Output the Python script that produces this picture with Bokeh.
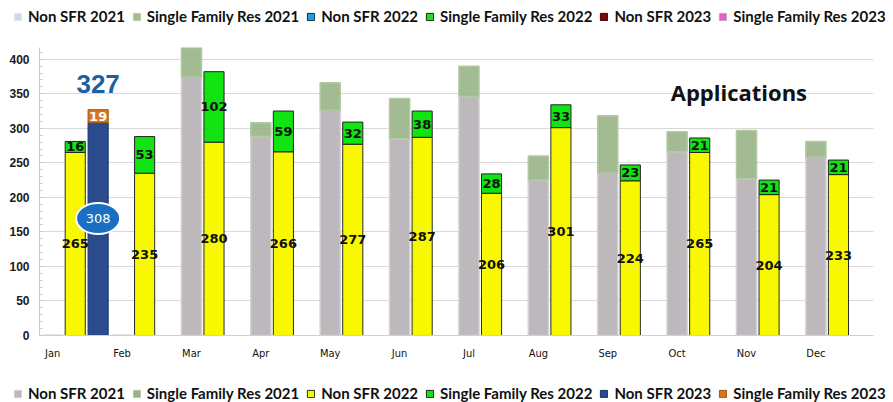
import numpy as np
from bokeh.plotting import figure
from bokeh.layouts import column
from bokeh.models import (ColumnDataSource, Legend, LegendItem, Range1d,
                          FixedTicker, Label)
from bokeh.core.properties import value
from bokeh.embed import file_html
from bokeh.resources import INLINE

# ---------------- data ----------------
months = ["Jan", "Feb", "Mar", "Apr", "May", "Jun",
          "Jul", "Aug", "Sep", "Oct", "Nov", "Dec"]
non_sfr_2021 = [0, 0, 374, 288, 326, 285, 346, 225, 235, 266, 227, 258]
sfr_2021 = [0, 0, 60, 20, 40, 58, 44, 35, 83, 29, 70, 23]
non_sfr_2022 = [265, 235, 280, 266, 277, 287, 206, 301, 224, 265, 204, 233]
sfr_2022 = [16, 53, 102, 59, 32, 38, 28, 33, 23, 21, 21, 21]
non_sfr_2023 = [308]
sfr_2023 = [19]
y_ticks = [0, 50, 100, 150, 200, 250, 300, 350, 400]
legend_labels = ["Non SFR 2021", "Single Family Res 2021", "Non SFR 2022",
                 "Single Family Res 2022", "Non SFR 2023", "Single Family Res 2023"]

# colours
C_N21, L_N21 = "#bdb8bc", "#d4d0d3"
C_S21, L_S21 = "#98b487", "#b3c9a4"
C_N22, L_N22 = "#f8f800", "#2b2b2b"
C_S22, L_S22 = "#12e312", "#222222"
C_N23, L_N23 = "#2b4b8c", "#1d3468"
C_S23, L_S23 = "#d9741e", "#a85410"
# the upper key of the picture uses a different palette
top_colors = [("#cdd8ea", "#e0e6f0"), ("#a3bd91", "#b9ccab"),
              ("#1aa3e0", "#1a2a3a"), ("#22dd22", "#103010"),
              ("#7a0a0a", "#4a0000"), ("#e060c8", "#c0a0c0")]
bot_colors = [(C_N21, L_N21), (C_S21, L_S21), (C_N22, L_N22),
              (C_S22, L_S22), (C_N23, L_N23), (C_S23, L_S23)]

W = 893

# ---------------- layout helpers ----------------
idx = np.arange(len(months), dtype=float)
OFF21, OFF22, OFF23 = 0.0, 0.325, 0.655
BW = 0.29

n21 = np.array(non_sfr_2021, float)
s21 = np.array(sfr_2021, float)
n22 = np.array(non_sfr_2022, float)
s22 = np.array(sfr_2022, float)
n23 = np.array(non_sfr_2023, float)
s23 = np.array(sfr_2023, float)

src21 = ColumnDataSource(dict(x=idx + OFF21, n=n21, t=n21 + s21))
src22 = ColumnDataSource(dict(x=idx + OFF22, n=n22, t=n22 + s22,
                              nmid=n22 / 2, smid=n22 + s22 / 2,
                              nlab=[str(int(v)) for v in n22],
                              slab=[str(int(v)) for v in s22]))
x23 = idx[:len(n23)] + OFF23
src23 = ColumnDataSource(dict(x=x23, n=n23, t=n23 + s23, smid=n23 + s23 / 2,
                              emid=n23 * 0.55,
                              nlab=[str(int(v)) for v in n23],
                              slab=[str(int(v)) for v in s23],
                              tlab=[str(int(v)) for v in n23 + s23]))

p = figure(width=W, height=340,
           frame_width=834, frame_height=288,
           min_border_left=39, min_border_right=20,
           min_border_top=15, min_border_bottom=37,
           x_range=Range1d(-0.19, 11.83), y_range=Range1d(0, 417),
           output_backend="svg", toolbar_location=None,
           background_fill_color="white", border_fill_color="white")
p.outline_line_color = None
p.frame_align = False

# grid
p.xgrid.grid_line_color = None
p.ygrid.grid_line_color = "#d9d9d9"
p.ygrid.grid_line_width = 1

# y axis
p.yaxis.ticker = FixedTicker(ticks=y_ticks,
                             minor_ticks=list(np.arange(0, 420, 10)))
p.yaxis.axis_line_color = "#c8c8c8"
p.yaxis.major_tick_in = 0
p.yaxis.major_tick_out = 0
p.yaxis.minor_tick_in = 3
p.yaxis.minor_tick_out = 0
p.yaxis.minor_tick_line_color = "#c8c8c8"
p.yaxis.major_label_text_font = "Liberation Sans"
p.yaxis.major_label_text_font_style = "bold"
p.yaxis.major_label_text_font_size = "12px"
p.yaxis.major_label_text_color = "#1a1a1a"
p.yaxis.major_label_standoff = 10

# x axis
p.xaxis.ticker = FixedTicker(ticks=list(idx))
p.xaxis.major_label_overrides = {float(i): m for i, m in zip(idx, months)}
p.xaxis.axis_line_color = "#d0d0d0"
p.xaxis.major_tick_in = 0
p.xaxis.major_tick_out = 0
p.xaxis.minor_tick_line_color = None
p.xaxis.major_label_text_font = "DejaVu Sans Condensed"
p.xaxis.major_label_text_font_size = "11px"
p.xaxis.major_label_text_color = "#111111"
p.xaxis.major_label_standoff = 11

# ---------------- bars ----------------
p.vbar(x="x", width=BW, bottom=0, top="n", source=src21,
       fill_color=C_N21, line_color=L_N21, line_width=1.5)
p.vbar(x="x", width=BW, bottom="n", top="t", source=src21,
       fill_color=C_S21, fill_alpha=0.9, line_color=L_S21, line_width=1.5)
p.vbar(x="x", width=BW, bottom=0, top="n", source=src22,
       fill_color=C_N22, line_color=L_N22, line_width=1)
p.vbar(x="x", width=BW, bottom="n", top="t", source=src22,
       fill_color=C_S22, line_color=L_S22, line_width=1)
p.vbar(x="x", width=BW, bottom=0, top="n", source=src23,
       fill_color=C_N23, line_color=L_N23, line_width=1)
p.vbar(x="x", width=BW, bottom="n", top="t", source=src23,
       fill_color=C_S23, line_color=L_S23, line_width=1)

# ---------------- value labels ----------------
p.text(x="x", y="nmid", text="nlab", source=src22,
       text_align="center", text_baseline="middle",
       text_font=value("DejaVu Sans"), text_font_style="bold",
       text_font_size="13px", text_color="#111111")
p.text(x="x", y="smid", text="slab", source=src22,
       text_align="center", text_baseline="middle",
       text_font=value("DejaVu Sans"), text_font_style="bold",
       text_font_size="13px", text_color="#111111")
p.ellipse(x="x", y="emid", width=44, height=31, source=src23,
          width_units="screen", height_units="screen",
          fill_color="#1a6fc2", line_color="white", line_width=2)
p.text(x="x", y="emid", text="nlab", source=src23,
       text_align="center", text_baseline="middle",
       text_font=value("DejaVu Sans"), text_font_size="13px",
       text_color="white")
p.text(x="x", y="smid", text="slab", source=src23,
       text_align="center", text_baseline="middle",
       text_font=value("DejaVu Sans"), text_font_style="bold",
       text_font_size="13px", text_color="white")
p.text(x="x", y="t", text="tlab", source=src23, y_offset=-17,
       text_align="center", text_baseline="bottom",
       text_font=value("Liberation Sans"), text_font_style="bold",
       text_font_size="26px", text_color="#1f5fa3")

p.add_layout(Label(x=9.89, y=353, text="Applications",
                   text_align="center", text_baseline="middle",
                   text_font="Open Sans", text_font_style="bold",
                   text_font_size="22px", text_color="#111111"))


# ---------------- legends (in thin key strips) ----------------
def key_strip(height, colors, leg_y):
    f = figure(width=W, height=height, x_axis_type=None, y_axis_type=None,
               min_border_left=0, min_border_right=0,
               min_border_top=0, min_border_bottom=0,
               x_range=Range1d(0, 1), y_range=Range1d(0, 1),
               output_backend="svg", toolbar_location=None,
               background_fill_color="white", border_fill_color="white")
    f.outline_line_color = None
    f.frame_align = False
    f.grid.visible = False
    items = []
    for lab, (fc, lc) in zip(legend_labels, colors):
        r = f.vbar(x="x", top="top", width=0.1, fill_color=fc, line_color=lc,
                   source=ColumnDataSource(dict(x=[-10.0], top=[0.0])))
        items.append(LegendItem(label=lab, renderers=[r]))
    lg = Legend(items=items, location=(13, leg_y))
    lg.orientation = "horizontal"
    lg.background_fill_alpha = 0
    lg.border_line_color = None
    lg.padding = 0
    lg.margin = 0
    lg.spacing = 7
    lg.glyph_width = 9
    lg.glyph_height = 9
    lg.label_standoff = 6
    lg.label_text_font = "Lato"
    lg.label_text_font_style = "bold"
    lg.label_text_font_size = "15px"
    lg.label_text_color = "#111111"
    lg.label_height = 18
    f.add_layout(lg, "center")
    return f


top = key_strip(32, top_colors, 7)
bottom = key_strip(30, bot_colors, 0)

layout = column(top, p, bottom, spacing=0)
open("out.html", "w").write(file_html(layout, INLINE))
